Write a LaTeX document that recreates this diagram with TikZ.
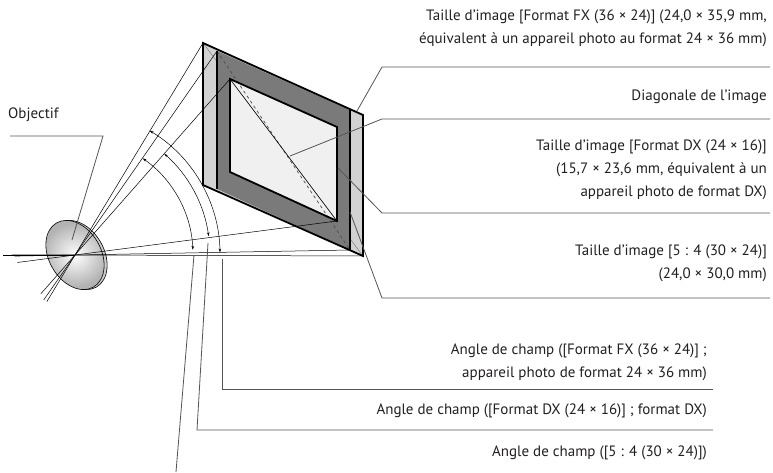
\documentclass[tikz,border=0pt]{standalone}
\usepackage{fontspec}
\setmainfont{PT Sans}
\usetikzlibrary{arrows.meta,calc}
\definecolor{txt}{HTML}{231F20}
\definecolor{lead}{HTML}{555555}
\newcommand\myapos{\char"0027\relax}
\begin{document}
\begin{tikzpicture}[x=1pt,y=-1pt,
  lbl/.style={font=\fontsize{15}{23}\selectfont,text=txt,align=right,inner sep=0pt},
  leader/.style={draw=lead,line width=0.8pt},
  ray/.style={draw=black,line width=0.5pt},
  arcarrow/.style={draw=black,line width=0.5pt,{Stealth[length=4pt,width=2.5pt]}-{Stealth[length=4pt,width=2.5pt]}},
  frame/.style={draw=black,line width=1.8pt,line join=miter}]
\useasboundingbox (0,0) rectangle (773,473);
% coordinates
\coordinate (C) at (75,255);
\coordinate (FXa) at (203,43); \coordinate (FXb) at (363,115);
\coordinate (FXc) at (363,256); \coordinate (FXd) at (203,185);
\coordinate (Sa) at (217,51); \coordinate (Sb) at (350,110);
\coordinate (Sc) at (350,250); \coordinate (Sd) at (217,189);
\coordinate (Da) at (230,79); \coordinate (Db) at (337,127);
\coordinate (Dc) at (337,221); \coordinate (Dd) at (230,172);
% frames
\fill[gray!35] (FXa)--(FXb)--(FXc)--(FXd)--cycle;
\fill[gray!70!black!80] (Sa)--(Sb)--(Sc)--(Sd)--cycle;
\fill[gray!12] (Da)--(Db)--(Dc)--(Dd)--cycle;
\draw[ray,gray] (FXa)--(FXc);
\draw[gray!60!black,dashed,line width=0.7pt] (Sa)--(Sc);
\draw[ray] (Da)--(Dc);
\draw[frame] (FXa)--(FXb)--(FXc)--(FXd)--cycle;
\draw[frame] (Sa)--(Sd) (Sb)--(Sc);
\draw[frame] (Da)--(Db)--(Dc)--(Dd)--cycle;
% lens
\begin{scope}[shift={(C)}]
  \draw[fill=gray!40,line width=0.6pt] (3,0) ellipse[x radius=37, y radius=26, rotate=-60];
  \shade[draw=black,line width=0.6pt,inner color=white,outer color=gray!60,shading=radial] (0,0) ellipse[x radius=37, y radius=26, rotate=-60];
\end{scope}
% rays
\foreach \p in {FXa,Sa,Da,Dc,Sc,FXc}{\draw[ray] ($(C)!-0.22!(\p)$) -- (\p);}
\draw[ray] (3,255) -- (C);
% arcs
\draw[arcarrow] ($(C)+(-59:145)$) arc[start angle=-59,end angle=-1,radius=145];
\draw[arcarrow] ($(C)+(-48.6:135)$) arc[start angle=-48.6,end angle=-8,radius=135];
\draw[arcarrow] ($(C)+(-55:118)$) arc[start angle=-55,end angle=-2.5,radius=118];
% top-right labels
\node[lbl,anchor=east] (tFX) at (767,28) {Taille d\myapos image [Format FX (36 × 24)] (24,0 × 35,9 mm,\\équivalent à un appareil photo au format 24 × 36 mm)};
\node[lbl,anchor=east] (tDiag) at (767,97) {Diagonale de l\myapos image};
\node[lbl,anchor=east] (tDX) at (767,170) {Taille d\myapos image [Format DX (24 × 16)]\\(15,7 × 23,6 mm, équivalent à un\\appareil photo de format DX)};
\node[lbl,anchor=east] (t54) at (767,263) {Taille d\myapos image [5 : 4 (30 × 24)]\\(24,0 × 30,0 mm)};
\node[lbl,anchor=east] (aFX) at (707,362) {Angle de champ ([Format FX (36 × 24)] ;\\appareil photo de format 24 × 36 mm)};
\node[lbl,anchor=east] (aDX) at (707,411) {Angle de champ ([Format DX (24 × 16)] ; format DX)};
\node[lbl,anchor=east] (a54) at (707,453) {Angle de champ ([5 : 4 (30 × 24)])};
\node[lbl,anchor=west] (tObj) at (8,115) {Objectif};
% leaders
\coordinate (l1) at (357,111); \coordinate (l2) at (290,156);
\coordinate (l3) at (338,168); \coordinate (l4) at (350,212);
\draw[leader] (770,67) -- (382,67) -- (l1);
\draw[leader] (770,119) -- (382,119) -- (l2);
\draw[leader] (770,213) -- (382,213) -- (l3);
\draw[leader] (770,298) -- (382,298) -- (l4);
\draw[leader] (713,389) -- (222,389) -- (222,259);
\draw[leader] (713,430) -- (197,430) -- (208,243);
\draw[leader] (176,472) -- (194,255);
\draw[leader] (10,136) -- (103,136) -- (72,240);
\end{tikzpicture}
\end{document}
